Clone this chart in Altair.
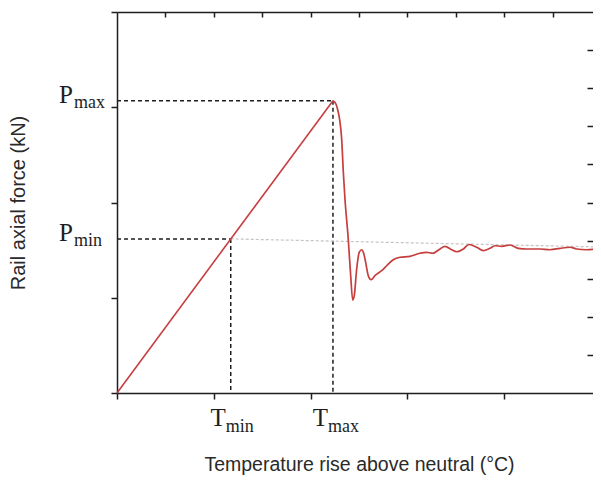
import altair as alt
import pandas as pd

# ---------------- data ----------------
# Temperature rise (x, arbitrary units) and rail axial force (y, arbitrary units)
x_curve = [0.000, 2.231, 2.262, 2.286, 2.304, 2.321, 2.338, 2.355, 2.389, 2.414,
           2.435, 2.451, 2.476, 2.503, 2.528, 2.544, 2.562, 2.596, 2.624, 2.665,
           2.734, 2.786, 2.854, 2.924, 3.027, 3.130, 3.199, 3.261, 3.337, 3.388,
           3.458, 3.509, 3.578, 3.636, 3.716, 3.784, 3.853, 3.905, 3.974, 4.060,
           4.146, 4.232, 4.370, 4.473, 4.576, 4.680, 4.749, 4.852, 4.990]
y_curve = [0.000, 3.069, 3.034, 2.947, 2.842, 2.667, 2.320, 2.037, 1.617, 1.232,
           0.976, 1.022, 1.302, 1.480, 1.504, 1.480, 1.407, 1.232, 1.190, 1.232,
           1.284, 1.336, 1.399, 1.425, 1.435, 1.467, 1.477, 1.467, 1.512, 1.540,
           1.504, 1.483, 1.512, 1.559, 1.530, 1.494, 1.519, 1.546, 1.540, 1.554,
           1.519, 1.512, 1.512, 1.504, 1.519, 1.530, 1.512, 1.504, 1.519]
peak_index = 1   # end of the straight (elastic) ramp

T_min, T_max = 1.175, 2.231
P_min, P_max = 1.618, 3.069
ref_x_end, ref_y_end = 4.99, 1.533   # light grey reference line end

bottom_ticks = [0, 1, 2, 3, 4, 5]
left_ticks = [0, 1, 2, 3, 4]
top_ticks = [0.5, 1.0, 1.5, 2.0, 2.5, 3.0, 3.5, 4.0, 4.5]
right_ticks = [0.4, 0.8, 1.2, 1.6, 2.0, 2.4, 2.8, 3.2, 3.6]

x_title = "Temperature rise above neutral (°C)"
y_title = "Rail axial force (kN)"

# ---------------- tables ----------------
df_ramp = pd.DataFrame({"x": x_curve[:peak_index + 1], "y": y_curve[:peak_index + 1]})
df_tail = pd.DataFrame({"x": x_curve[peak_index:], "y": y_curve[peak_index:]})
df_tail["i"] = range(len(df_tail))
df_ref = pd.DataFrame({"x": [T_min, ref_x_end], "y": [P_min, ref_y_end]})
df_rules = pd.DataFrame({
    "x": [0, T_max, 0, T_min],
    "x2": [T_max, T_max, T_min, T_min],
    "y": [P_max, P_max, P_min, P_min],
    "y2": [P_max, 0, P_min, 0],
})
df_plab = pd.DataFrame({"x": [0, 0], "y": [P_max, P_min], "sub": ["max", "min"]})
df_tlab = pd.DataFrame({"x": [T_min, T_max], "y": [0, 0], "sub": ["min", "max"]})

RED = "#c63e3e"
INK = "#1e1e1e"
SERIF = "Liberation Serif"
SANS = "Liberation Sans"

xs = alt.Scale(domain=[0, 5], nice=False, zero=False)
ys = alt.Scale(domain=[0, 4], nice=False, zero=False)

ramp = alt.Chart(df_ramp).mark_line(color=RED, strokeWidth=1.6).encode(
    x=alt.X("x:Q", scale=xs, axis=alt.Axis(
        orient="bottom", values=bottom_ticks, labels=False, tickSize=6,
        title=x_title, titlePadding=56, titleFontSize=19.5)),
    y=alt.Y("y:Q", scale=ys, axis=alt.Axis(
        orient="left", values=left_ticks, labels=False, tickSize=6,
        title=y_title, titlePadding=82, titleFontSize=20)),
)

tail = alt.Chart(df_tail).mark_line(
    color=RED, strokeWidth=1.7, interpolate="monotone"
).encode(
    x=alt.X("x:Q", scale=xs, axis=None),
    y=alt.Y("y:Q", scale=ys, axis=None),
    order="i:Q",
)

ref = alt.Chart(df_ref).mark_line(
    color="#c4c4c4", strokeWidth=1.2, strokeDash=[3, 2]
).encode(
    x=alt.X("x:Q", scale=xs, axis=alt.Axis(
        orient="top", values=top_ticks, labels=False, domain=False,
        tickSize=5, offset=-5, title=None)),
    y=alt.Y("y:Q", scale=ys, axis=alt.Axis(
        orient="right", values=right_ticks, labels=False, domain=False,
        tickSize=6, offset=-14, title=None)),
)

rules = alt.Chart(df_rules).mark_rule(
    color=INK, strokeWidth=1.5, strokeDash=[4, 3]
).encode(
    x=alt.X("x:Q", scale=xs, axis=alt.Axis(
        orient="top", domain=True, ticks=False, labels=False, title=None)),
    x2="x2:Q",
    y=alt.Y("y:Q", scale=ys, axis=None),
    y2="y2:Q",
)

p_main = alt.Chart(df_plab).mark_text(
    text="P", font=SERIF, fontSize=25, align="right", baseline="alphabetic",
    dx=-44, dy=2.5, color=INK
).encode(x=alt.X("x:Q", scale=xs, axis=None), y=alt.Y("y:Q", scale=ys, axis=None))

p_sub = alt.Chart(df_plab).mark_text(
    font=SERIF, fontSize=18, align="left", baseline="alphabetic",
    dx=-43, dy=7.5, color=INK
).encode(x=alt.X("x:Q", scale=xs, axis=None), y=alt.Y("y:Q", scale=ys, axis=None),
         text="sub:N")

t_main = alt.Chart(df_tlab).mark_text(
    text="T", font=SERIF, fontSize=25, align="right", baseline="alphabetic",
    dx=-5, dy=33, color=INK
).encode(x=alt.X("x:Q", scale=xs, axis=None), y=alt.Y("y:Q", scale=ys, axis=None))

t_sub = alt.Chart(df_tlab).mark_text(
    font=SERIF, fontSize=18, align="left", baseline="alphabetic",
    dx=-5, dy=39, color=INK
).encode(x=alt.X("x:Q", scale=xs, axis=None), y=alt.Y("y:Q", scale=ys, axis=None),
         text="sub:N")

chart = alt.layer(
    rules, ref, ramp, tail, p_main, p_sub, t_main, t_sub
).resolve_scale(
    x="shared", y="shared"
).resolve_axis(
    x="independent", y="independent"
).properties(
    width=484, height=381,
    autosize=alt.AutoSizeParams(type="none"),
    padding={"left": 109, "top": 4, "right": -8, "bottom": 82},
).configure_view(
    stroke=None
).configure_axis(
    grid=False, domainColor=INK, tickColor=INK, domainWidth=1.5, tickWidth=1.5,
    titleFont=SANS, titleFontWeight="normal", titleColor="#2a2a2a",
)

chart.save("out.html", embed_options={"renderer": "svg", "actions": False})
